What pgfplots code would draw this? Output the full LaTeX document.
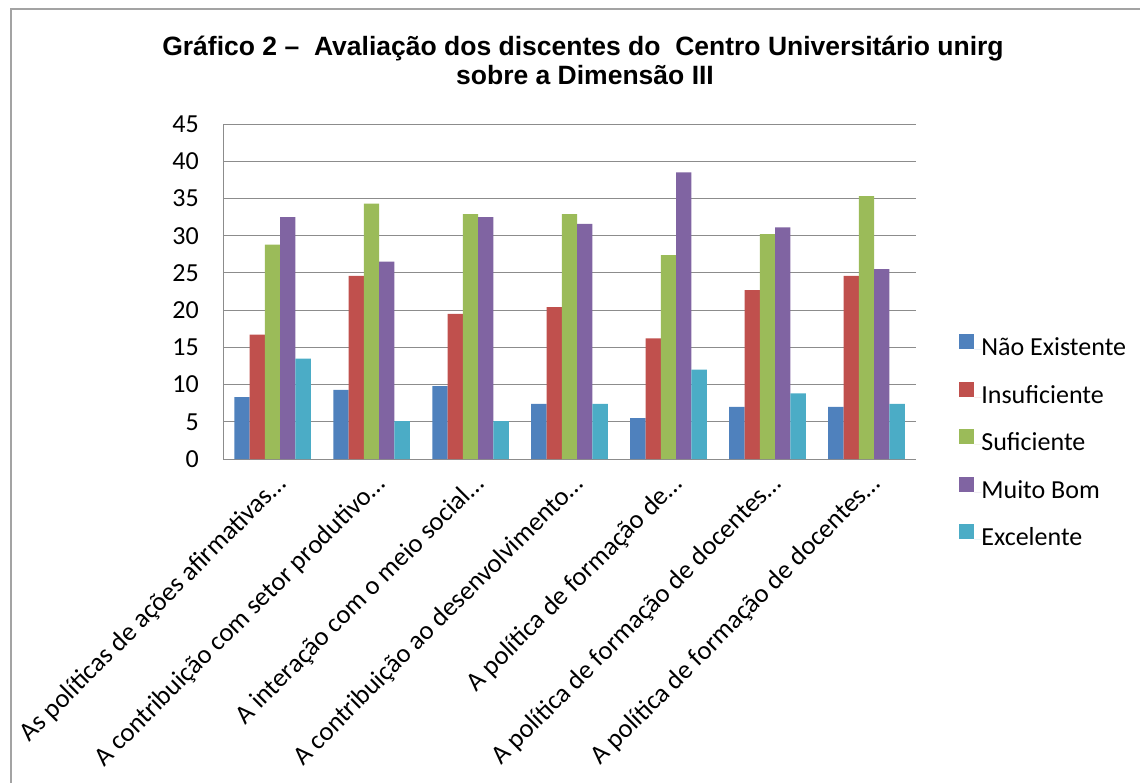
\documentclass[border=0pt]{standalone}
\usepackage{fontspec}
\setmainfont{Carlito}
\newfontfamily\titlefont{Liberation Sans}
\usepackage{pgfplots}
\pgfplotsset{compat=1.18}
\definecolor{cA}{HTML}{4F81BD}
\definecolor{cB}{HTML}{C0504D}
\definecolor{cC}{HTML}{9BBB59}
\definecolor{cD}{HTML}{8064A2}
\definecolor{cE}{HTML}{4BACC6}
\definecolor{gridc}{HTML}{8C8C8C}
\begin{document}
\begin{tikzpicture}
\path[use as bounding box] (0bp,0bp) rectangle (1140bp,-783bp);
\draw[color=gridc!80, line width=1.5bp] (11bp,-800bp) -- (11bp,-9bp) -- (1160bp,-9bp);
\node[font=\titlefont\bfseries\fontsize{26.5bp}{30bp}\selectfont, anchor=base] at (583bp,-55bp) {Gráfico 2 –\ \ Avaliação dos discentes do\ \ Centro Universitário unirg};
\node[font=\titlefont\bfseries\fontsize{26.5bp}{30bp}\selectfont, anchor=base] at (585bp,-84bp) {sobre a Dimensão III};
\begin{axis}[
  at={(223bp,-459bp)}, anchor=south west,
  width=693bp, height=335bp, scale only axis,
  ybar=0pt, bar width=15.3bp,
  xmin=-0.5, xmax=6.5, ymin=0, ymax=45,
  ytick={0,5,...,45},
  xtick={0,1,2,3,4,5,6},
  xticklabels={As políticas de ações afirmativas…, A contribuição com setor produtivo…, A interação com o meio social…, A contribuição ao desenvolvimento…, A política de formação de…, A política de formação de docentes…, A política de formação de docentes…},
  axis x line*=bottom, axis y line*=left,
  axis line style={gridc, line width=1bp},
  ymajorgrids, grid style={gridc, line width=1bp},
  major tick length=0pt,
  yticklabel style={font=\fontsize{26bp}{30bp}\selectfont, anchor=east, inner sep=0pt, xshift=-24bp},
  /pgf/number format/assume math mode=true,
  xticklabel style={font=\fontsize{26.5bp}{31bp}\selectfont, rotate=45, anchor=east, inner sep=0pt, xshift=-8bp, yshift=-22bp},
  legend style={at={(1.058,0.048)}, anchor=west, draw=none, fill=none,
    font=\fontsize{26bp}{30bp}\selectfont, row sep=20bp,
    nodes={inner sep=0pt, text height=18bp, text depth=6bp}},
  legend cell align=left,
  legend image code/.code={\fill[#1] (0bp,0.5bp) rectangle (15bp,15.5bp); \path (15bp,0bp) -- (22bp,0bp);},
]
\addplot[fill=cA, draw=none] coordinates {(0,8.3) (1,9.3) (2,9.8) (3,7.4) (4,5.5) (5,7.0) (6,7.0)};
\addplot[fill=cB, draw=none] coordinates {(0,16.7) (1,24.6) (2,19.5) (3,20.4) (4,16.2) (5,22.7) (6,24.6)};
\addplot[fill=cC, draw=none] coordinates {(0,28.8) (1,34.3) (2,32.9) (3,32.9) (4,27.4) (5,30.2) (6,35.3)};
\addplot[fill=cD, draw=none] coordinates {(0,32.5) (1,26.5) (2,32.5) (3,31.6) (4,38.5) (5,31.1) (6,25.5)};
\addplot[fill=cE, draw=none] coordinates {(0,13.5) (1,5.1) (2,5.1) (3,7.4) (4,12.0) (5,8.8) (6,7.4)};
\legend{Não Existente, Insuficiente, Suficiente, Muito Bom, Excelente}
\end{axis}
\end{tikzpicture}
\end{document}
